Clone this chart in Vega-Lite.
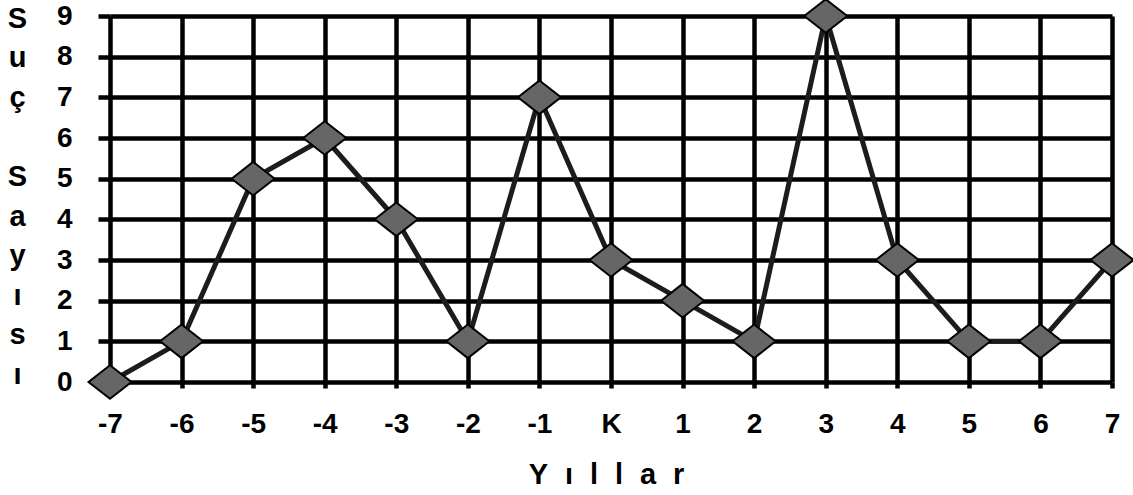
{
  "$schema": "https://vega.github.io/schema/vega-lite/v6.json",
  "autosize": "none",
  "width": 1002,
  "height": 366,
  "padding": {"left": 110, "top": 16, "right": 21, "bottom": 113},
  "background": "white",
  "config": {
    "view": {"stroke": null},
    "font": "Liberation Sans"
  },
  "data": {
    "values": [
      {"yil": "-7", "suc": 0},
      {"yil": "-6", "suc": 1},
      {"yil": "-5", "suc": 5},
      {"yil": "-4", "suc": 6},
      {"yil": "-3", "suc": 4},
      {"yil": "-2", "suc": 1},
      {"yil": "-1", "suc": 7},
      {"yil": "K", "suc": 3},
      {"yil": "1", "suc": 2},
      {"yil": "2", "suc": 1},
      {"yil": "3", "suc": 9},
      {"yil": "4", "suc": 3},
      {"yil": "5", "suc": 1},
      {"yil": "6", "suc": 1},
      {"yil": "7", "suc": 3}
    ]
  },
  "encoding": {
    "x": {
      "field": "yil",
      "type": "ordinal",
      "sort": null,
      "scale": {"type": "point", "padding": 0, "domain": ["-7","-6","-5","-4","-3","-2","-1","K","1","2","3","4","5","6","7"]},
      "axis": {
        "title": "Y\u2002\u200aı\u2002\u200al\u2002\u200al\u2002\u200aa\u2002\u200ar",
        "titleFont": "Liberation Sans",
        "titleFontSize": 29,
        "titleFontWeight": "bold",
        "titleColor": "black",
        "titleX": 496,
        "titleY": 101,
        "titleAlign": "center",
        "titleBaseline": "alphabetic",
        "labelAngle": 0,
        "labelFont": "Liberation Sans",
        "labelFontSize": 28,
        "labelFontWeight": "bold",
        "labelColor": "black",
        "labelPadding": 22,
        "tickSize": 6,
        "tickWidth": 4.5,
        "tickColor": "black",
        "domain": false,
        "grid": true,
        "gridColor": "black",
        "gridWidth": 4.5,
        "gridOpacity": 1
      }
    },
    "y": {
      "field": "suc",
      "type": "quantitative",
      "scale": {"domain": [0, 9], "nice": false},
      "axis": {
        "values": [0,1,2,3,4,5,6,7,8,9],
        "title": ["S","u","ç","\u2800","S","a","y","ı","s","ı"],
        "titleFont": "Liberation Sans",
        "titleFontSize": 29,
        "titleFontWeight": "bold",
        "titleColor": "black",
        "titleAngle": 0,
        "titleX": -93,
        "titleY": 11,
        "titleAlign": "center",
        "titleBaseline": "alphabetic",
        "titleLineHeight": 39.6,
        "labelFont": "Liberation Sans",
        "labelFontSize": 28,
        "labelFontWeight": "bold",
        "labelColor": "black",
        "labelPadding": 26,
        "tickSize": 12,
        "tickWidth": 4.5,
        "tickColor": "black",
        "domain": false,
        "grid": true,
        "gridColor": "black",
        "gridWidth": 4.5,
        "gridOpacity": 1
      }
    }
  },
  "layer": [
    {
      "mark": {"type": "line", "color": "#1c1c1c", "strokeWidth": 5}
    },
    {
      "mark": {
        "type": "point",
        "shape": "M-1,0L0,-0.78L1,0L0,0.78Z",
        "size": 1850,
        "filled": true,
        "fill": "#666666",
        "stroke": "black",
        "strokeWidth": 2,
        "opacity": 1
      }
    }
  ]
}
